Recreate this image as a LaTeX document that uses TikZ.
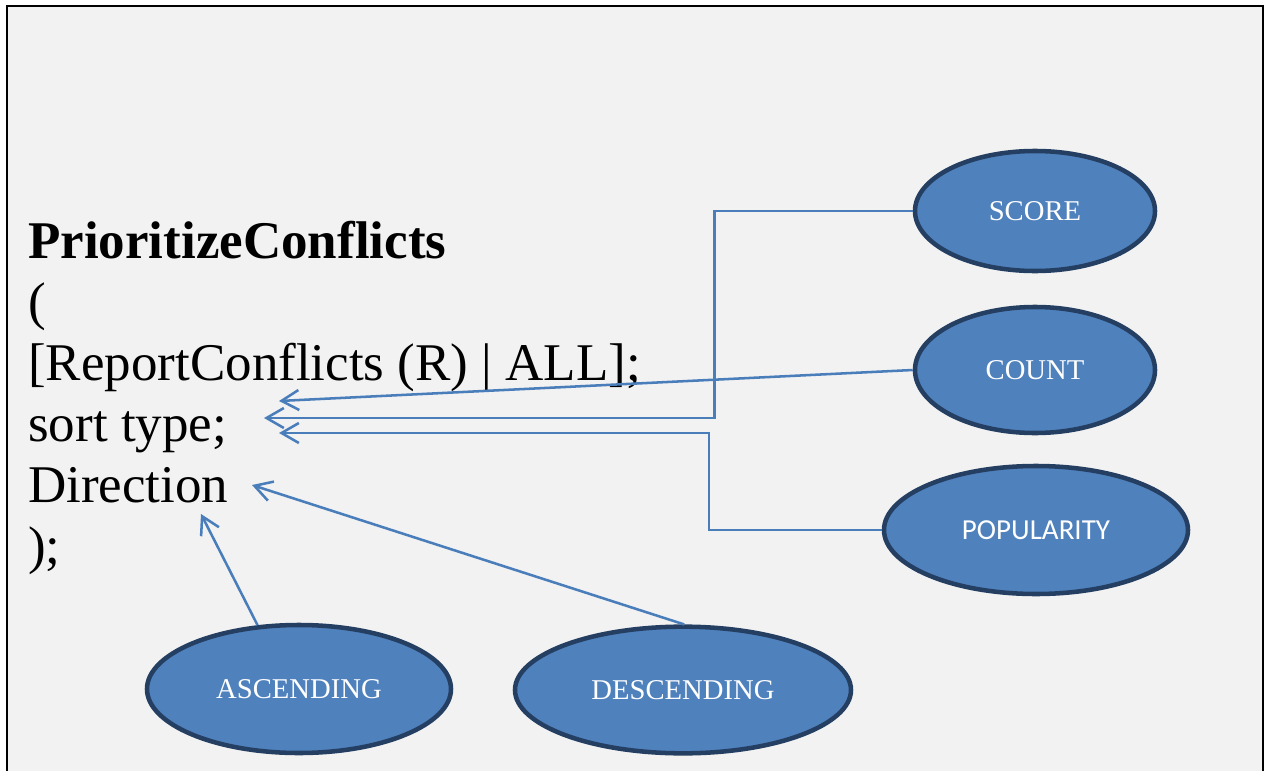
\documentclass[tikz,border=0pt]{standalone}
\usepackage{fontspec}
\setmainfont{Liberation Serif}
\newfontfamily\popfont{Carlito}
\usetikzlibrary{shapes.geometric,arrows.meta}
\definecolor{bgray}{HTML}{F2F2F2}
\definecolor{efill}{HTML}{4F81BD}
\definecolor{edraw}{HTML}{253F63}
\definecolor{conncol}{HTML}{4A7EBB}
\tikzset{
  oval/.style={ellipse, fill=efill, draw=edraw, line width=3.4pt, inner sep=0pt,
    text=white, font=\fontsize{21.5}{24}\selectfont},
  conn/.style={draw=conncol, line width=1.9pt, -{Straight Barb[length=13pt,width=15pt,line width=1.9pt]}},
  codeline/.style={anchor=base west, inner sep=0pt, font=\fontsize{39.75}{45}\selectfont}
}
\begin{document}
\begin{tikzpicture}[x=0.75pt,y=-0.75pt]
\clip (0,0) rectangle (1265,771);
\fill[white] (0,0) rectangle (1265,771);
\filldraw[fill=bgray, draw=black, line width=1.6pt] (7,6) rectangle (1263,800);

% code text
\node[codeline] (l1) at (28,258) {\textbf{PrioritizeConflicts}};
\node[codeline] (l2) at (28,319) {(};
\node[codeline] (l3) at (28,380) {[ReportConflicts (R) | ALL];};
\node[codeline] (l4) at (28,441) {sort type;};
\node[codeline] (l5) at (28,502) {Direction};
\node[codeline] (l6) at (28,563) {);};

% ellipses
\node[oval, minimum width=180pt, minimum height=90pt] (score) at (1035,211) {SCORE};
\node[oval, minimum width=180pt, minimum height=94.5pt] (count) at (1035,370) {COUNT};
\node[oval, minimum width=228pt, minimum height=96pt, font=\popfont\fontsize{21.75}{24}\selectfont] (pop) at (1036,530) {POPULARITY};
\node[oval, minimum width=228pt, minimum height=96pt] (asc) at (299,689) {ASCENDING};
\node[oval, minimum width=252pt, minimum height=95pt] (desc) at (683,690) {DESCENDING};

% connector points
\coordinate (tipS) at (264,418);
\coordinate (jS) at (714.5,418);
\coordinate (tipC) at (279,401);
\coordinate (tipP) at (279,433);
\coordinate (jP) at (709,433);
\coordinate (tipD) at (252,485);
\coordinate (tipA) at (201,514);

% connectors
\draw[conn] (score.west) -| (jS) -- (tipS);
\draw[conn] (count.west) -- (tipC);
\draw[conn] (pop.west) -| (jP) -- (tipP);
\draw[conn] (desc.89) -- (tipD);
\draw[conn] (asc.123) -- (tipA);
\end{tikzpicture}
\end{document}
